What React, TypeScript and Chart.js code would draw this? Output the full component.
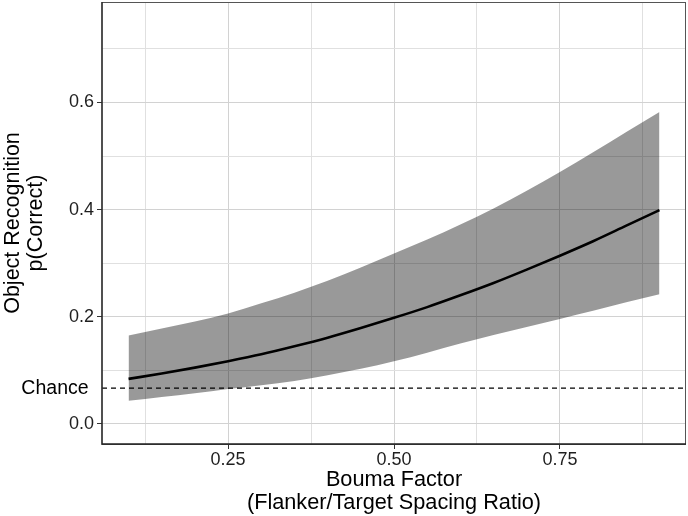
import React, { useEffect, useRef } from 'react';
import { Chart, registerables } from 'chart.js';

Chart.register(...registerables);

// ---- data ----
const boumaFactor = [0.10, 0.15, 0.20, 0.25, 0.30, 0.35, 0.40, 0.45, 0.50, 0.55, 0.60, 0.65, 0.70, 0.75, 0.80, 0.85, 0.90];
const pCorrect = [0.084, 0.094, 0.105, 0.117, 0.130, 0.145, 0.161, 0.179, 0.198, 0.218, 0.240, 0.263, 0.288, 0.314, 0.341, 0.370, 0.399];
const upperCI = [0.165, 0.178, 0.191, 0.206, 0.225, 0.245, 0.267, 0.292, 0.318, 0.344, 0.372, 0.402, 0.435, 0.470, 0.507, 0.545, 0.582];
const lowerCI = [0.043, 0.050, 0.057, 0.065, 0.072, 0.080, 0.091, 0.103, 0.117, 0.133, 0.150, 0.166, 0.181, 0.196, 0.211, 0.227, 0.242];
const chanceLevel = 1 / 15;
const chanceLabel = 'Chance';

const xRange = [0.06, 0.94];
const yRange = [-0.0375, 0.7875];
const xMajorTicks = [0.25, 0.5, 0.75];
const xMajorLabels = ['0.25', '0.50', '0.75'];
const xMinorTicks = [0.125, 0.375, 0.625, 0.875];
const yMajorTicks = [0, 0.2, 0.4, 0.6];
const yMajorLabels = ['0.0', '0.2', '0.4', '0.6'];
const yMinorTicks = [0.1, 0.3, 0.5, 0.7];

const xTitle = ['Bouma Factor', '(Flanker/Target Spacing Ratio)'];
const yTitle = ['Object Recognition', 'p(Correct)'];

const FONT = "'Liberation Sans', Arial, Helvetica, sans-serif";
const near = (a: number, b: number) => Math.abs(a - b) < 1e-9;
const idxIn = (arr: number[], v: number) => arr.findIndex((t) => near(t, v));

const panelBorder = {
  id: 'panelBorder',
  afterDatasetsDraw(chart: any) {
    const { ctx, chartArea: a } = chart;
    ctx.save();
    ctx.strokeStyle = '#555';
    ctx.lineWidth = 1;
    ctx.strokeRect(a.left, a.top + 0.5, a.right - a.left - 0.5, a.bottom - a.top);
    ctx.strokeStyle = '#222';
    ctx.lineWidth = 1.3;
    ctx.beginPath();
    ctx.moveTo(a.left, a.top);
    ctx.lineTo(a.left, a.bottom);
    ctx.lineTo(a.right, a.bottom);
    ctx.stroke();
    ctx.restore();
  },
};

export default function App() {
  const canvasRef = useRef<HTMLCanvasElement | null>(null);

  useEffect(() => {
    if (!canvasRef.current) return;
    const toXY = (ys: number[]) => boumaFactor.map((x, i) => ({ x, y: ys[i] }));

    const chart = new Chart(canvasRef.current, {
      type: 'line',
      data: {
        datasets: [
          {
            label: 'lower',
            data: toXY(lowerCI),
            borderWidth: 0,
            pointRadius: 0,
            fill: false,
            cubicInterpolationMode: 'monotone',
          },
          {
            label: 'upper',
            data: toXY(upperCI),
            borderWidth: 0,
            pointRadius: 0,
            backgroundColor: 'rgba(0,0,0,0.4)',
            fill: '-1',
            cubicInterpolationMode: 'monotone',
          },
          {
            label: 'chance',
            data: [
              { x: xRange[0], y: chanceLevel },
              { x: xRange[1], y: chanceLevel },
            ],
            borderColor: '#000',
            borderWidth: 1.3,
            borderDash: [5, 4],
            pointRadius: 0,
            fill: false,
          },
          {
            label: 'fit',
            data: toXY(pCorrect),
            borderColor: '#000',
            borderWidth: 2.6,
            pointRadius: 0,
            fill: false,
            cubicInterpolationMode: 'monotone',
          },
        ],
      },
      options: {
        responsive: false,
        animation: false,
        layout: { padding: { top: 2, right: 2, left: 0, bottom: 0 } },
        plugins: { legend: { display: false }, tooltip: { enabled: false } },
        scales: {
          x: {
            type: 'linear',
            min: xRange[0],
            max: xRange[1],
            bounds: 'data',
            border: { display: false },
            afterBuildTicks: (s: any) => {
              s.ticks = [...xMajorTicks, ...xMinorTicks].sort((a, b) => a - b).map((v) => ({ value: v }));
            },
            afterFit: (s: any) => {
              s.height = 72;
              s.paddingLeft = 0;
              s.paddingRight = 0;
            },
            grid: {
              color: (c: any) => (idxIn(xMajorTicks, c.tick?.value) >= 0 ? '#d2d2d2' : '#e0e0e0'),
              lineWidth: 1,
              tickLength: 5,
              tickColor: (c: any) => (idxIn(xMajorTicks, c.tick?.value) >= 0 ? '#333' : 'rgba(0,0,0,0)'),
            },
            ticks: {
              autoSkip: false,
              maxRotation: 0,
              padding: 0,
              color: '#1f1f1f',
              font: { family: FONT, size: 18 },
              callback: (v: any) => {
                const i = idxIn(xMajorTicks, Number(v));
                return i >= 0 ? xMajorLabels[i] : '';
              },
            },
            title: {
              display: true,
              text: xTitle,
              color: '#000',
              font: { family: FONT, size: 21.7, lineHeight: 1.06 },
              padding: { top: 0, bottom: 1.5 },
            },
          },
          y: {
            type: 'linear',
            min: yRange[0],
            max: yRange[1],
            bounds: 'data',
            border: { display: false },
            afterBuildTicks: (s: any) => {
              s.ticks = [...yMajorTicks, ...yMinorTicks, chanceLevel].sort((a, b) => a - b).map((v) => ({ value: v }));
            },
            afterFit: (s: any) => {
              s.width = 102;
              s.paddingTop = 0;
              s.paddingBottom = 0;
            },
            grid: {
              color: (c: any) => {
                const v = c.tick?.value;
                if (near(v, chanceLevel)) return 'rgba(0,0,0,0)';
                return idxIn(yMajorTicks, v) >= 0 ? '#d2d2d2' : '#e0e0e0';
              },
              lineWidth: 1,
              tickLength: 5,
              tickColor: (c: any) => (idxIn(yMajorTicks, c.tick?.value) >= 0 ? '#333' : 'rgba(0,0,0,0)'),
            },
            ticks: {
              autoSkip: false,
              padding: 3,
              color: (c: any) => (near(c.tick?.value, chanceLevel) ? '#000' : '#1f1f1f'),
              font: (c: any) =>
                near(c.tick?.value, chanceLevel) ? { family: FONT, size: 19.5 } : { family: FONT, size: 18 },
              callback: (v: any) => {
                const n = Number(v);
                if (near(n, chanceLevel)) return chanceLabel + ' ';
                const i = idxIn(yMajorTicks, n);
                return i >= 0 ? yMajorLabels[i] : '';
              },
            },
            title: {
              display: true,
              text: yTitle,
              color: '#000',
              font: { family: FONT, size: 21.5, lineHeight: 1.1 },
              padding: { top: 1, bottom: 0 },
            },
          },
        },
      },
      plugins: [panelBorder],
    } as any);

    return () => chart.destroy();
  }, []);

  return (
    <div style={{ position: 'absolute', left: 0, top: 0, width: 688, height: 516, background: '#fff' }}>
      <canvas ref={canvasRef} width={688} height={516} style={{ display: 'block' }} />
    </div>
  );
}
